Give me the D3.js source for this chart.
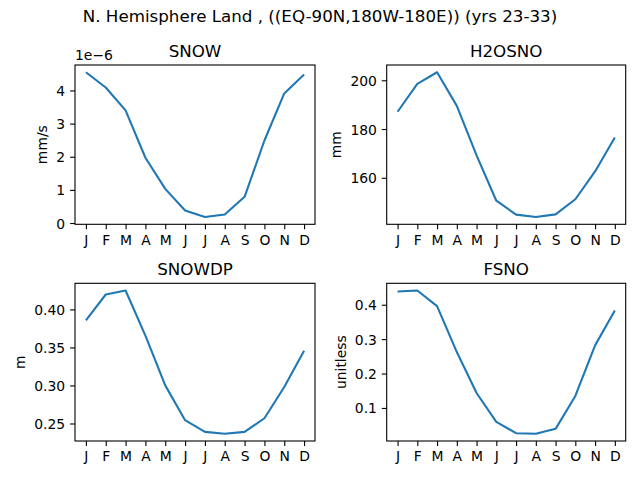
<!DOCTYPE html>
<html>
<head>
<meta charset="utf-8">
<script src="https://cdn.jsdelivr.net/npm/d3@7"></script>
<style>
  body { margin: 0; background: #fff; }
  svg { display: block; font-family: "DejaVu Sans", sans-serif; }
</style>
</head>
<body>
<svg id="fig" width="640" height="480"></svg>
<script>
const months = ["J", "F", "M", "A", "M", "J", "J", "A", "S", "O", "N", "D"];

// values
const snow = [4.55, 4.09, 3.40, 1.97, 1.03, 0.38, 0.18, 0.26, 0.79, 2.49, 3.91, 4.48]; // x 1e-6 mm/s
const h2osno = [187.1, 198.5, 203.3, 189.5, 169.2, 150.6, 144.9, 143.9, 145.0, 151.2, 162.6, 176.5];
const snowdp = [0.3856, 0.4196, 0.4249, 0.3656, 0.3001, 0.2543, 0.2390, 0.2364, 0.2390, 0.2569, 0.2979, 0.3455];
const fsno = [0.4387, 0.4415, 0.396, 0.2624, 0.1435, 0.0594, 0.0266, 0.0247, 0.0392, 0.1348, 0.2819, 0.3834];

const snowTicks = [0, 1, 2, 3, 4];
const h2osnoTicks = [160, 180, 200];
const snowdpTicks = [0.25, 0.30, 0.35, 0.40];
const fsnoTicks = [0.1, 0.2, 0.3, 0.4];

const panels = [
  { title: "SNOW", unit: "mm/s", values: snow, ticks: snowTicks, fmt: d3.format("d"), offset: "1e\u22126",
    box: { left: 75, right: 315, top: 65, bottom: 224.3 } },
  { title: "H2OSNO", unit: "mm", values: h2osno, ticks: h2osnoTicks, fmt: d3.format("d"),
    box: { left: 386.7, right: 625.7, top: 65, bottom: 224.3 } },
  { title: "SNOWDP", unit: "m", values: snowdp, ticks: snowdpTicks, fmt: d3.format(".2f"),
    box: { left: 75, right: 315, top: 283.3, bottom: 441 } },
  { title: "FSNO", unit: "unitless", values: fsno, ticks: fsnoTicks, fmt: d3.format(".1f"),
    box: { left: 386.7, right: 625.7, top: 283.3, bottom: 441 } }
];

const svg = d3.select("#fig");
const ink = "#000";
const tickLen = 4.9, tickPad = 4.9;

svg.append("text")
  .attr("x", 320).attr("y", 22)
  .attr("text-anchor", "middle")
  .attr("font-size", 16.7)
  .attr("fill", ink)
  .text("N. Hemisphere Land , ((EQ-90N,180W-180E)) (yrs 23-33)");

panels.forEach(p => {
  const b = p.box;
  const x = d3.scaleLinear().domain([-0.55, 11.55]).range([b.left, b.right]);
  const [lo, hi] = d3.extent(p.values);
  const m = (hi - lo) * 0.05;
  const y = d3.scaleLinear().domain([lo - m, hi + m]).range([b.bottom, b.top]);

  const g = svg.append("g");

  // line
  const line = d3.line()
    .x((d, i) => x(i))
    .y(d => y(d));
  g.append("path")
    .datum(p.values)
    .attr("fill", "none")
    .attr("stroke", "#1f77b4")
    .attr("stroke-width", 2.08)
    .attr("stroke-linejoin", "round")
    .attr("stroke-linecap", "butt")
    .attr("d", line);

  // frame
  g.append("rect")
    .attr("x", b.left).attr("y", b.top)
    .attr("width", b.right - b.left).attr("height", b.bottom - b.top)
    .attr("fill", "none").attr("stroke", ink).attr("stroke-width", 1.1);

  // x axis
  const xa = g.append("g")
    .attr("transform", `translate(0,${b.bottom})`)
    .call(d3.axisBottom(x).tickValues(d3.range(12)).tickFormat(i => months[i])
      .tickSize(tickLen).tickPadding(tickPad));
  xa.select(".domain").remove();
  xa.selectAll("line").attr("stroke", ink).attr("stroke-width", 1.1);
  xa.selectAll("text").attr("font-size", 13.9).attr("font-family", "DejaVu Sans").attr("fill", ink)
    .attr("dy", "0.76em");

  // y axis
  const ya = g.append("g")
    .attr("transform", `translate(${b.left},0)`)
    .call(d3.axisLeft(y).tickValues(p.ticks).tickFormat(p.fmt)
      .tickSize(tickLen).tickPadding(tickPad));
  ya.select(".domain").remove();
  ya.selectAll("line").attr("stroke", ink).attr("stroke-width", 1.1);
  ya.selectAll("text").attr("font-size", 13.9).attr("font-family", "DejaVu Sans").attr("fill", ink)
    .attr("dy", "0.36em");

  let minX = b.left;
  ya.selectAll("text").each(function () {
    const bb = this.getBBox();
    minX = Math.min(minX, bb.x + b.left);
  });

  // y label
  const lx = minX - 5.6 - 3.3;
  g.append("text")
    .attr("transform", `translate(${lx},${(b.top + b.bottom) / 2}) rotate(-90)`)
    .attr("text-anchor", "middle")
    .attr("font-size", 13.9)
    .attr("fill", ink)
    .text(p.unit);

  // title
  g.append("text")
    .attr("x", (b.left + b.right) / 2).attr("y", b.top - 8)
    .attr("text-anchor", "middle")
    .attr("font-size", 16.7)
    .attr("fill", ink)
    .text(p.title);

  if (p.offset) {
    g.append("text")
      .attr("x", b.left).attr("y", b.top - 5)
      .attr("font-size", 13.9)
      .attr("fill", ink)
      .text(p.offset);
  }
});
</script>
</body>
</html>
